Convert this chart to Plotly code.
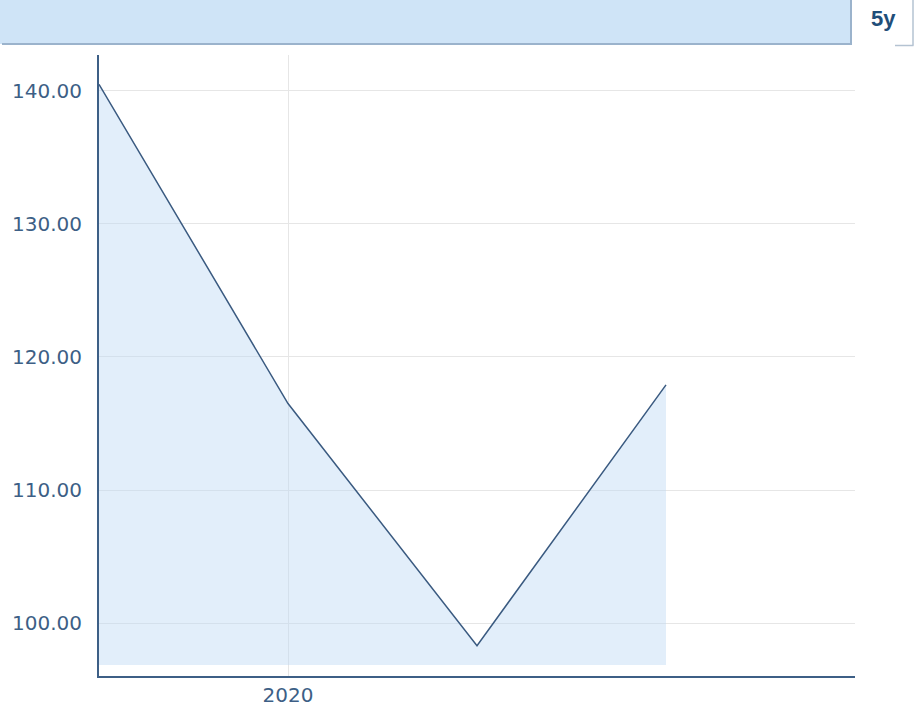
import plotly.graph_objects as go

years = [2019, 2020, 2021, 2022]
values = [140.5, 116.5, 98.3, 117.9]
fill_base = 96.85
y_ticks = [100, 110, 120, 130, 140]
y_tick_text = ["100.00", "110.00", "120.00", "130.00", "140.00"]
x_ticks = [2020]
x_tick_text = ["2020"]
range_label = "5y"

W, H = 919, 708
L, R, T, B = 99, 64, 55, 32
pw, ph = W - L - R, H - T - B

def px(x):
    return (x - L) / pw

def py(y):
    return (H - B - y) / ph

fig = go.Figure()
fig.add_trace(go.Scatter(x=years, y=[fill_base] * len(years), mode="lines",
                         line=dict(width=0), hoverinfo="skip", showlegend=False))
fig.add_trace(go.Scatter(x=years, y=values, mode="lines", fill="tonexty",
                         fillcolor="rgba(190,218,243,0.45)",
                         line=dict(color="#3a5a80", width=1.5), showlegend=False))

shapes = [
    dict(type="rect", xref="paper", yref="paper", x0=px(-2), x1=px(851), y0=py(44), y1=py(-2),
         fillcolor="#cfe4f7", line=dict(width=0), layer="above"),
    dict(type="line", xref="paper", yref="paper", x0=px(2), x1=px(852), y0=py(44), y1=py(44),
         line=dict(color="#9bb3cc", width=2)),
    dict(type="line", xref="paper", yref="paper", x0=px(851), x1=px(851), y0=py(44), y1=py(-2),
         line=dict(color="#9bb3cc", width=2)),
    dict(type="line", xref="paper", yref="paper", x0=px(913), x1=px(913), y0=py(45.5), y1=py(-2),
         line=dict(color="#b4c3d2", width=1.5)),
    dict(type="line", xref="paper", yref="paper", x0=px(895), x1=px(913.5), y0=py(45.5), y1=py(45.5),
         line=dict(color="#b4c3d2", width=1.5)),
]

fig.update_layout(
    width=W, height=H,
    margin=dict(l=L, r=R, t=T, b=B, autoexpand=False),
    paper_bgcolor="white", plot_bgcolor="white",
    font=dict(family="DejaVu Sans", size=20, color="#3d5f86"),
    shapes=shapes,
    annotations=[dict(text="<b>" + range_label + "</b>", xref="paper", yref="paper",
                      x=px(883.5), y=py(18.5), showarrow=False, xanchor="center", yanchor="middle",
                      font=dict(family="Liberation Sans", size=22, color="#1f4e79"))],
    xaxis=dict(range=[2019, 2023], tickvals=x_ticks, ticktext=x_tick_text,
               showgrid=True, gridcolor="#e6e6e6", gridwidth=1,
               showline=True, linecolor="#3d5f86", linewidth=2,
               ticks="", zeroline=False, fixedrange=True, layer="below traces",
               ticklabelstandoff=0, automargin=False),
    yaxis=dict(range=[96.02, 142.7], tickvals=y_ticks, ticktext=y_tick_text,
               showgrid=True, gridcolor="#e6e6e6", gridwidth=1,
               showline=True, linecolor="#3d5f86", linewidth=2,
               ticks="", zeroline=False, ticklabelstandoff=11, fixedrange=True,
               layer="below traces", automargin=False),
)

fig.write_html("out.html", config={"displayModeBar": False},
               post_script="document.body.style.margin='0';document.body.style.overflow='hidden';")
